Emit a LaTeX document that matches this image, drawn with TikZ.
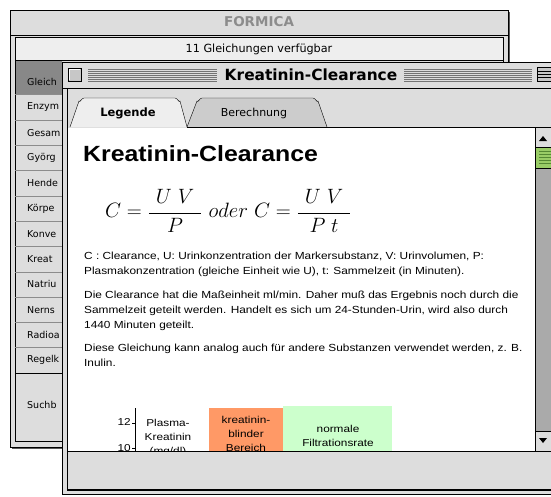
\documentclass[tikz,border=0pt]{standalone}
\usepackage{fontspec}
\setmainfont{Liberation Sans}
\newfontfamily\uifont{DejaVu Sans}
\newfontfamily\widefont{Liberation Sans}[FakeStretch=1.15]
\newfontfamily\headfont{Liberation Sans}[FakeStretch=1.13]
\newfontfamily\chartfont{Liberation Sans}[FakeStretch=1.18]
\usetikzlibrary{positioning}

\definecolor{platinum}{HTML}{DDDDDD}
\definecolor{lightplat}{HTML}{EEEEEE}
\definecolor{backtab}{HTML}{CCCCCC}
\definecolor{selrow}{HTML}{888888}
\definecolor{trackgray}{HTML}{AAAAAA}
\definecolor{thumbgreen}{HTML}{99CC66}
\definecolor{thumbline}{HTML}{558833}
\definecolor{blindorange}{HTML}{FF9966}
\definecolor{filtgreen}{HTML}{CCFFCC}

\newcommand{\padfrac}[2]{\frac{\hspace{7pt}#1\hspace{7pt}}{#2}}

\begin{document}
\begin{tikzpicture}[x=1pt,y=-1pt,
  uilabel/.style={font=\uifont\fontsize{9.5}{11}\selectfont, inner sep=0pt},
  bodytext/.style={font=\widefont\fontsize{10.3}{14.8}\selectfont, align=left, inner sep=0pt, anchor=north west},
  charttext/.style={font=\chartfont\fontsize{10}{13.8}\selectfont, align=center, inner sep=0pt},
  rowline/.style={draw=black!45},
  stripe/.style={draw=black!55},
  bevel/.style={draw=white}]
\useasboundingbox (0,0) rectangle (551,496);
\fill[white] (0,0) rectangle (551,496);

%Shape: Rectangle [back window shadow]
\fill[black!65] (12,12) rectangle (510,449);
%Shape: Rectangle [back window]
\draw[fill=platinum] (10,10) rectangle (508,447);
\draw (10,35) -- (508,35);
% Text Node
\node[uilabel, font=\uifont\bfseries\fontsize{13.5}{15}\selectfont, text=black!45] (formica) at (259,22) {FORMICA};
%Shape: Rectangle [count box]
\draw[fill=lightplat] (15,37) rectangle (503,60);
% Text Node
\node[uilabel, font=\uifont\fontsize{11.2}{13}\selectfont] (count) at (259,49) {11 Gleichungen verfügbar};
%Shape: Rectangle [list]
\draw (15,60) rectangle (503,441);
\fill[selrow] (15.5,60.5) rectangle (62,94.65);
\foreach \entry [count=\i from 0] in {Gleich,Enzym,Gesam,Györg,Hende,Körpe,Konve,Kreat,Natriu,Nerns,Radioa,Regelk}{
  \node[uilabel, anchor=west] (entry\i) at (27,82+25.3*\i) {\entry};
  \draw[rowline] (15,94.65+25.3*\i) -- (62,94.65+25.3*\i);
}
\draw (15,373) -- (62,373);
% Text Node
\node[uilabel, anchor=west] (search) at (27,405) {Suchb};

%Shape: Rectangle [front window]
\draw[fill=platinum] (62,62) rectangle (560,494);
\draw (62,88) -- (560,88);
\draw (67,88) -- (67,490);
%Shape: Rectangle [close box]
\draw[fill=black!22] (68,68) rectangle (81,81);
\draw[bevel] (69,80) -- (69,69) -- (80,69);
\foreach \y in {69,71,...,81}{
  \draw[stripe] (88,\y) -- (217,\y);
  \draw[stripe] (404,\y) -- (532,\y);
}
% Text Node
\node[uilabel, font=\uifont\bfseries\fontsize{15.4}{17}\selectfont] (title) at (311,75) {Kreatinin-Clearance};
%Shape: Rectangle [zoom box]
\draw[fill=black!22] (537,67) rectangle (556,81);
\draw (537,71) -- (556,71) (537,74) -- (556,74) (537,77) -- (556,77);

%Shape: Polygon [tab Berechnung]
\draw[fill=backtab] (187,127) -- (197,101) to[out=-70,in=180] (202,98) -- (313,98) to[out=0,in=-110] (318,101) -- (327,127);
%Shape: Polygon [tab Legende]
\draw[fill=lightplat] (70,127) -- (79,101) to[out=-70,in=180] (84,98) -- (175,98) to[out=0,in=-110] (180,101) -- (187,127);
\draw (187,127) -- (535,127);
% Text Node
\node[uilabel, font=\uifont\bfseries\fontsize{11.5}{13}\selectfont] (legende) at (128,113) {Legende};
% Text Node
\node[uilabel, font=\uifont\fontsize{11}{13}\selectfont] (berechnung) at (254,113) {Berechnung};

%Shape: Rectangle [content]
\fill[white] (67.5,127.5) rectangle (535,451);
%Shape: Rectangle [scroll bar]
\draw[fill=trackgray] (535,127) rectangle (556,451);
\draw[fill=platinum] (535,127) rectangle (556,147);
\fill (539,141) -- (547,141) -- (543,136) -- cycle;
\draw[fill=thumbgreen] (535,147) rectangle (556,168);
\foreach \y in {151,154,...,164} \draw[thumbline] (539,\y) -- (552,\y);
\draw[fill=platinum] (535,431) rectangle (556,451);
\fill (539,438) -- (547,438) -- (543,443) -- cycle;

\begin{scope}
\clip (68,128) rectangle (535,451);
% Text Node
\node[font=\headfont\bfseries\fontsize{22}{26}\selectfont, anchor=base west, inner sep=0pt] (heading) at (83,161) {Kreatinin-Clearance};
% Text Node
\node[anchor=west, inner sep=0pt, font=\fontsize{22}{26}\selectfont] (formula) at (105,211)
  {$\displaystyle C=\padfrac{U\ V}{P}\ oder\ C=\padfrac{U\ V}{P\;t}$};
% Text Node
\node[bodytext] (legend) at (84,252) {C : Clearance, U: Urinkonzentration der Markersubstanz, V: Urinvolumen, P:\\Plasmakonzentration (gleiche Einheit wie U), t: Sammelzeit (in Minuten).};
% Text Node
\node[bodytext] (unit) at (84,291) {Die Clearance hat die Maßeinheit ml/min. Daher muß das Ergebnis noch durch die\\Sammelzeit geteilt werden. Handelt es sich um 24-Stunden-Urin, wird also durch\\1440 Minuten geteilt.};
% Text Node
\node[bodytext] (inulin) at (84,344) {Diese Gleichung kann analog auch für andere Substanzen verwendet werden, z. B.\\Inulin.};

%Straight Lines [axis]
\draw (135,408) -- (135,460);
\draw (132,423) -- (135,423) (132,448) -- (135,448);
% Text Node
\node[charttext, anchor=east] (tick12) at (131,422) {12};
\node[charttext, anchor=east] (tick10) at (131,448) {10};
\node[charttext] (yaxis) at (168,438) {Plasma-\\Kreatinin\\(mg/dl)};
%Shape: Rectangle [blind range]
\fill[blindorange] (209,408) rectangle (283,470);
%Shape: Rectangle [normal range]
\fill[filtgreen] (283,406) rectangle (392,470);
% Text Node
\node[charttext] (blind) at (246,434) {kreatinin-\\blinder\\Bereich};
% Text Node
\node[charttext] (normal) at (338,436) {normale\\Filtrationsrate};
\end{scope}

%Shape: Rectangle [bottom panel]
\draw[fill=platinum] (67,451) rectangle (560,489);
\draw[line width=1.5pt] (67,490) -- (560,490);
\end{tikzpicture}
\end{document}
